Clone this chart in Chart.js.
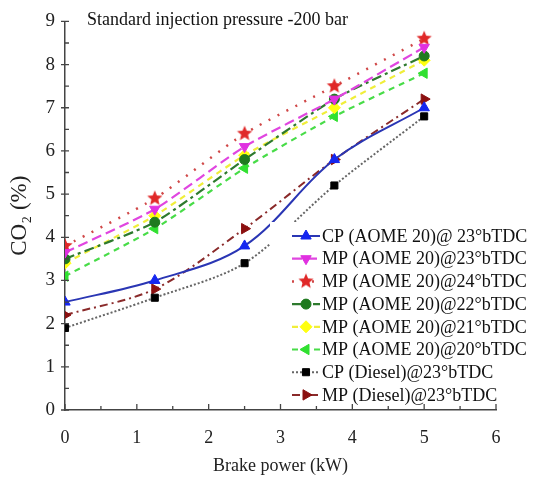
<!DOCTYPE html>
<html lang="en">
<head>
    <meta charset="UTF-8">
    <title>CO2 vs Brake power</title>
    <script src="https://cdn.jsdelivr.net/npm/chart.js"></script>
    <style>
        html, body { margin: 0; padding: 0; background: #fff; }
        #wrap { width: 538px; height: 479px; }
    </style>
</head>
<body>
    <div id="wrap"><canvas id="graph" width="538" height="479"></canvas></div>

    <script>
        // data
        const brakePower = [0, 1.25, 2.5, 3.75, 5];
        const xTicks = [0, 1, 2, 3, 4, 5, 6];
        const yTicks = [0, 1, 2, 3, 4, 5, 6, 7, 8, 9];

        const seriesNames = [
            "CP (AOME 20)@ 23°bTDC",
            "MP (AOME 20)@23°bTDC",
            "MP (AOME 20)@24°bTDC",
            "MP (AOME 20)@22°bTDC",
            "MP (AOME 20)@21°bTDC",
            "MP (AOME 20)@20°bTDC",
            "CP (Diesel)@23°bTDC",
            "MP (Diesel)@23°bTDC"
        ];
        const cpAome23 = [2.5, 3.0, 3.8, 5.8, 7.0];
        const mpAome23 = [3.65, 4.65, 6.1, 7.2, 8.4];
        const mpAome24 = [3.8, 4.9, 6.4, 7.5, 8.6];
        const mpAome22 = [3.5, 4.35, 5.8, 7.2, 8.2];
        const mpAome21 = [3.4, 4.5, 5.9, 7.0, 8.1];
        const mpAome20 = [3.1, 4.2, 5.6, 6.8, 7.8];
        const cpDiesel = [1.9, 2.6, 3.4, 5.2, 6.8];
        const mpDiesel = [2.2, 2.8, 4.2, 5.8, 7.2];

        const SERIF = "'Liberation Serif', 'Times New Roman', serif";

        // five point star marker
        function makeStar(color, r) {
            const c = document.createElement('canvas');
            c.width = c.height = r * 2 + 2;
            const g = c.getContext('2d');
            g.beginPath();
            for (let i = 0; i < 10; i++) {
                const rad = i % 2 === 0 ? r : r * 0.45;
                const a = -Math.PI / 2 + i * Math.PI / 5;
                g.lineTo(r + 1 + rad * Math.cos(a), r + 1 + rad * Math.sin(a));
            }
            g.closePath();
            g.fillStyle = color;
            g.fill();
            return c;
        }
        const starImg = makeStar('#e02828', 8);

        function pts(ys) {
            return brakePower.map((x, i) => ({ x: x, y: ys[i] }));
        }

        const styles = [
            { line: '#2a36b4', fill: '#1426f0', dash: [], width: 2, point: 'triangle', rot: 0, r: 6, tension: 0.35 },
            { line: '#e046e0', fill: '#e030e0', dash: [10, 5], width: 2.2, point: 'triangle', rot: 180, r: 6, tension: 0.2 },
            { line: '#d04848', fill: '#e02828', dash: [2, 8], width: 2.5, point: starImg, rot: 0, r: 8, tension: 0.2 },
            { line: '#2e7a2e', fill: '#1f7a1f', dash: [10, 4, 3, 4], width: 2.2, point: 'circle', rot: 0, r: 5, tension: 0.2 },
            { line: '#f0ee3a', fill: '#ffff10', dash: [6, 5], width: 2.2, point: 'rectRot', rot: 0, r: 6, tension: 0.2 },
            { line: '#48dc48', fill: '#30e030', dash: [6, 5], width: 2.2, point: 'triangle', rot: -90, r: 6, tension: 0.2 },
            { line: '#666666', fill: '#000000', dash: [2, 2], width: 2, point: 'rect', rot: 0, r: 5, tension: 0.3 },
            { line: '#8a2a2a', fill: '#8b1010', dash: [8, 4, 2, 4], width: 2, point: 'triangle', rot: 90, r: 6, tension: 0.3 }
        ];
        const seriesValues = [cpAome23, mpAome23, mpAome24, mpAome22, mpAome21, mpAome20, cpDiesel, mpDiesel];

        const datasets = seriesValues.map((vals, i) => ({
            label: seriesNames[i],
            data: pts(vals),
            borderColor: styles[i].line,
            backgroundColor: styles[i].fill,
            borderWidth: styles[i].width,
            borderDash: styles[i].dash,
            pointStyle: styles[i].point,
            rotation: styles[i].rot,
            pointRadius: styles[i].r,
            pointBorderColor: styles[i].fill,
            pointBackgroundColor: styles[i].fill,
            pointBorderWidth: 1,
            tension: styles[i].tension,
            fill: false
        }));

        // legend box inside the plot, lower right
        const boxLegend = {
            id: 'boxLegend',
            afterDatasetsDraw(chart) {
                const ctx = chart.ctx;
                ctx.save();
                ctx.fillStyle = '#fff';
                ctx.fillRect(270, 222, 268, 184);
                const x0 = 292, x1 = 320, top = 236, step = 22.7;
                chart.data.datasets.forEach((ds, i) => {
                    const y = top + i * step;
                    ctx.strokeStyle = ds.borderColor;
                    ctx.lineWidth = ds.borderWidth;
                    ctx.setLineDash(ds.borderDash);
                    ctx.beginPath();
                    ctx.moveTo(x0, y);
                    ctx.lineTo(x1, y);
                    ctx.stroke();
                    ctx.setLineDash([]);
                    ctx.fillStyle = ds.pointBackgroundColor;
                    ctx.strokeStyle = ds.pointBorderColor;
                    ctx.lineWidth = 1;
                    Chart.helpers.drawPoint(ctx, {
                        pointStyle: ds.pointStyle,
                        radius: ds.pointRadius,
                        rotation: ds.rotation,
                        borderWidth: 1
                    }, (x0 + x1) / 2, y);
                    ctx.fillStyle = '#111';
                    ctx.font = '18px ' + SERIF;
                    ctx.textBaseline = 'middle';
                    ctx.textAlign = 'left';
                    ctx.fillText(ds.label, 322, y + 1);
                });
                ctx.font = '18px ' + SERIF;
                ctx.fillText('Standard injection pressure -200 bar', 87, 20);
                ctx.restore();
            }
        };

        // inward major/minor tick marks
        const innerTicks = {
            id: 'innerTicks',
            afterDraw(chart) {
                const ctx = chart.ctx;
                const xs = chart.scales.x, ys = chart.scales.y;
                const area = chart.chartArea;
                ctx.save();
                ctx.strokeStyle = '#444';
                ctx.lineWidth = 1.3;
                ctx.beginPath();
                for (let v = 0; v <= 6.001; v += 0.5) {
                    const px = xs.getPixelForValue(v);
                    const len = Number.isInteger(v) ? 6 : 4;
                    ctx.moveTo(px, area.bottom);
                    ctx.lineTo(px, area.bottom - len);
                }
                for (let v = 0; v <= 9.001; v += 0.5) {
                    const py = ys.getPixelForValue(v);
                    if (Number.isInteger(v)) {
                        ctx.moveTo(area.left - 4, py);
                        ctx.lineTo(area.left + 4, py);
                    } else {
                        ctx.moveTo(area.left, py);
                        ctx.lineTo(area.left + 4, py);
                    }
                }
                ctx.stroke();
                ctx.restore();
            }
        };

        window.onload = function() {
            const ctx = document.getElementById('graph').getContext('2d');
            new Chart(ctx, {
                type: 'line',
                data: { datasets: datasets },
                options: {
                    responsive: false,
                    animation: false,
                    layout: { padding: { left: 0, right: 42, top: 10, bottom: 0 } },
                    plugins: {
                        legend: { display: false },
                        tooltip: { enabled: false }
                    },
                    scales: {
                        x: {
                            type: 'linear',
                            min: 0,
                            max: 6,
                            afterBuildTicks: s => { s.ticks = xTicks.map(v => ({ value: v })); },
                            afterFit: s => { s.height = 69; },
                            grid: { display: false, drawTicks: false },
                            border: { display: true, color: '#444', width: 1.5 },
                            ticks: { color: '#222', font: { family: SERIF, size: 18 }, padding: 17 },
                            title: {
                                display: true,
                                text: 'Brake power (kW)',
                                color: '#222',
                                font: { family: SERIF, size: 18 },
                                padding: { top: 0, bottom: 2 }
                            }
                        },
                        y: {
                            min: 0,
                            max: 9,
                            afterBuildTicks: s => { s.ticks = yTicks.map(v => ({ value: v })); },
                            afterFit: s => { s.width = 65; },
                            grid: { display: false, drawTicks: false },
                            border: { display: true, color: '#444', width: 1.5 },
                            ticks: { color: '#222', font: { family: SERIF, size: 19 }, padding: 10 },
                            title: {
                                display: true,
                                text: 'CO₂ (%)',
                                color: '#222',
                                font: { family: SERIF, size: 23 },
                                padding: { top: 6, bottom: 6 }
                            }
                        }
                    }
                },
                plugins: [boxLegend, innerTicks]
            });
        };
    </script>
</body>
</html>
